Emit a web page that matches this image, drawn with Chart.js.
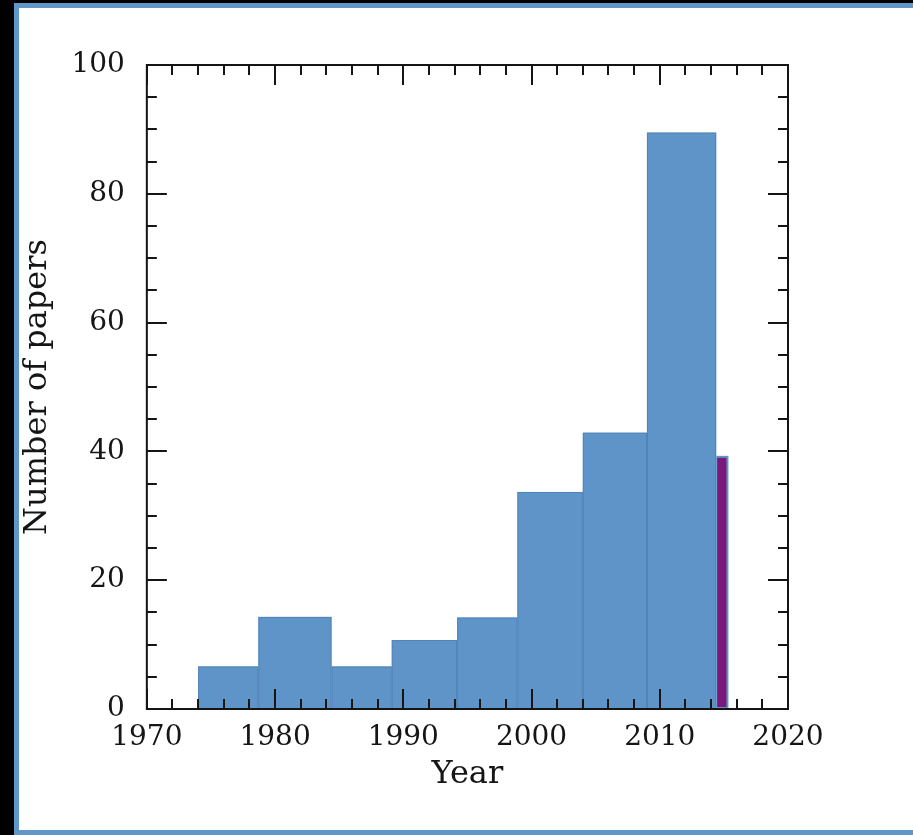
<!DOCTYPE html>
<html>
<head>
<meta charset="utf-8">
<title>Number of papers per year</title>
<script src="https://cdn.jsdelivr.net/npm/chart.js@4.4.1/dist/chart.umd.min.js"></script>
<style>
  html, body { margin: 0; padding: 0; width: 913px; height: 835px; background: #000; overflow: hidden; }
  #frame {
    position: absolute; left: 14px; top: 3px; width: 894px; height: 822px;
    background: #fff; border: 5px solid #6396c8; border-right: none;
  }
  #wrap { position: absolute; left: 0; top: 0; width: 913px; height: 835px; }
</style>
</head>
<body>
<div id="frame"></div>
<div id="wrap"><canvas id="grafica"></canvas></div>
<script>
// histogram bins (years) and counts
const binStart = [1974, 1978.7, 1984.4, 1989.1, 1994.2, 1998.9, 2004.0, 2009.0];
const binEnd   = [1978.7, 1984.4, 1989.1, 1994.2, 1998.9, 2004.0, 2009.0, 2014.4];
const paperCounts = [6.6, 14.3, 6.6, 10.7, 14.2, 33.7, 42.9, 89.5];

// partial last year
const partialStart = [2014.4];
const partialEnd = [2015.2];
const partialCounts = [39];

const xTickLabels = [1970, 1980, 1990, 2000, 2010, 2020];
const yTickLabels = [0, 20, 40, 60, 80, 100];
const xMinorStep = 2;
const yMinorStep = 5;

const fuente = 'DejaVu Serif';
const colorEje = '#151515';

// draws the histogram bars using the chart scales
const histograma = {
  id: 'histograma',
  beforeDatasetsDraw(chart) {
    const { ctx, scales: { x, y } } = chart;
    ctx.save();
    const y0 = y.getPixelForValue(0);
    binStart.forEach((s, i) => {
      const x0 = x.getPixelForValue(s);
      const x1 = x.getPixelForValue(binEnd[i]);
      const yt = y.getPixelForValue(paperCounts[i]);
      ctx.fillStyle = '#5f94c9';
      ctx.fillRect(x0, yt, x1 - x0, y0 - yt);
      ctx.strokeStyle = '#5283b6';
      ctx.lineWidth = 1;
      ctx.strokeRect(x0 + 0.5, yt + 0.5, x1 - x0 - 1, y0 - yt - 1);
    });
    partialStart.forEach((s, i) => {
      const x0 = x.getPixelForValue(s);
      const x1 = x.getPixelForValue(partialEnd[i]);
      const yt = y.getPixelForValue(partialCounts[i]);
      ctx.fillStyle = '#5f94c9';
      ctx.fillRect(x0, yt - 2, x1 - x0 + 2, y0 - yt + 2);
      ctx.fillStyle = '#7b1879';
      ctx.fillRect(x0 + 1, yt, x1 - x0 - 1, y0 - yt - 2);
    });
    ctx.restore();
  },
  afterDraw(chart) {
    const { ctx, chartArea: a, scales: { x, y } } = chart;
    ctx.save();
    ctx.strokeStyle = colorEje;
    ctx.lineWidth = 2;
    ctx.strokeRect(a.left, a.top, a.right - a.left, a.bottom - a.top);
    ctx.beginPath();
    // x ticks, inward on bottom and top
    for (let v = x.min; v <= x.max; v += xMinorStep) {
      const px = Math.round(x.getPixelForValue(v));
      const len = v % 10 === 0 ? 20 : 10;
      ctx.moveTo(px, a.bottom); ctx.lineTo(px, a.bottom - len);
      ctx.moveTo(px, a.top); ctx.lineTo(px, a.top + len);
    }
    // y ticks, inward on left and right
    for (let v = y.min; v <= y.max; v += yMinorStep) {
      const py = Math.round(y.getPixelForValue(v));
      const len = v % 20 === 0 ? 20 : 10;
      ctx.moveTo(a.left, py); ctx.lineTo(a.left + len, py);
      ctx.moveTo(a.right, py); ctx.lineTo(a.right - len, py);
    }
    ctx.stroke();
    ctx.restore();
  }
};

const ctx = document.getElementById('grafica').getContext('2d');

const grafica = new Chart(ctx, {
  type: 'scatter',
  data: { datasets: [] },
  options: {
    responsive: true,
    maintainAspectRatio: false,
    animation: false,
    layout: { padding: { left: 8, right: 125, top: 65, bottom: 24 } },
    plugins: { legend: { display: false }, tooltip: { enabled: false } },
    scales: {
      x: {
        type: 'linear',
        min: xTickLabels[0],
        max: xTickLabels[xTickLabels.length - 1],
        grid: { display: false, drawTicks: false },
        border: { display: false },
        ticks: {
          stepSize: 10,
          padding: 12,
          color: colorEje,
          font: { family: fuente, size: 28 },
          callback: v => xTickLabels.includes(v) ? String(v) : ''
        },
        title: {
          display: true, text: 'Year', color: colorEje,
          font: { family: fuente, size: 32 }, padding: { top: -11, bottom: 17 }
        }
      },
      y: {
        min: yTickLabels[0],
        max: yTickLabels[yTickLabels.length - 1],
        grid: { display: false, drawTicks: false },
        border: { display: false },
        ticks: {
          stepSize: 20,
          padding: 22,
          color: colorEje,
          font: { family: fuente, size: 28 },
          callback: v => yTickLabels.includes(v) ? String(v) : ''
        },
        title: {
          display: true, text: 'Number of papers', color: colorEje,
          font: { family: fuente, size: 32 }, padding: { top: 10, bottom: -7 }
        }
      }
    }
  },
  plugins: [histograma]
});
</script>
</body>
</html>
